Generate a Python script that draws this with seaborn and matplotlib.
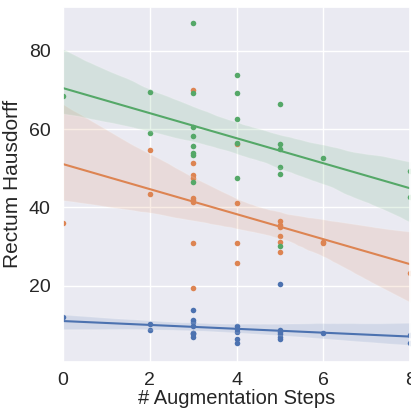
import numpy as np
import pandas as pd
import matplotlib
matplotlib.use("Agg")
import matplotlib.pyplot as plt
import seaborn as sns

# Augmentation steps and Rectum Hausdorff distances for three model variants
steps_a = [0, 2, 2, 3, 3, 3, 3, 3, 3, 3, 3, 4, 4, 4, 4, 4, 5, 5, 5, 5, 5, 5, 6, 8, 8]
hd_a = [11.9, 10.2, 8.7, 13.9, 11.2, 10.6, 9.8, 8.0, 8.0, 7.6, 7.0,
        9.8, 9.0, 8.1, 6.4, 5.3, 20.3, 8.7, 8.2, 7.6, 7.0, 6.4, 7.9, 7.4, 5.3]

steps_b = [0, 2, 2, 3, 3, 3, 3, 3, 3, 3, 3, 3, 4, 4, 4, 4, 5, 5, 5, 5, 5, 5, 6, 6, 8]
hd_b = [35.9, 54.6, 43.4, 70.0, 51.4, 48.2, 47.6, 42.5, 41.9, 41.3, 31.0, 19.5,
        56.1, 41.1, 31.0, 25.9, 36.4, 35.6, 35.0, 32.7, 31.1, 28.7, 31.2, 31.0, 23.2]

steps_c = [0, 2, 2, 3, 3, 3, 3, 3, 3, 3, 3, 4, 4, 4, 4, 4, 5, 5, 5, 5, 5, 5, 6, 8, 8]
hd_c = [68.5, 69.4, 59.0, 87.1, 69.3, 60.6, 58.2, 55.6, 53.9, 53.4, 46.6,
        73.8, 69.2, 62.5, 56.5, 47.5, 66.4, 56.3, 54.8, 50.3, 48.4, 30.0, 52.6, 49.2, 42.6]

series = [(steps_a, hd_a), (steps_b, hd_b), (steps_c, hd_c)]

sns.set_theme(style="darkgrid", font_scale=1.25)
plt.rcParams["font.family"] = ["Liberation Sans", "DejaVu Sans"]
palette = sns.color_palette("deep")

fig = plt.figure(figsize=(4.11, 4.09), dpi=100)
ax = fig.add_axes([0.153, 0.115, 0.845, 0.869])
ax.set_xlim(0, 8)

for i, (xs, ys) in enumerate(series):
    df = pd.DataFrame({"x": xs, "y": ys})
    sns.regplot(data=df, x="x", y="y", ax=ax, color=palette[i], truncate=False,
                seed=0, scatter_kws={"s": 16, "alpha": 1, "linewidths": 0},
                line_kws={"linewidth": 1.5})

ax.set_xlim(0, 8)
ax.set_ylim(0.5, 91.3)
ax.set_xticks([0, 2, 4, 6, 8])
ax.set_yticks([20, 40, 60, 80])
ax.set_xlabel("# Augmentation Steps", fontsize=14.5, labelpad=0)
ax.set_ylabel("Rectum Hausdorff", fontsize=15, labelpad=5)
ax.tick_params(axis="y", labelsize=14, pad=3)
ax.tick_params(axis="x", labelsize=14, pad=1)

fig.savefig("out.png", dpi=100)
